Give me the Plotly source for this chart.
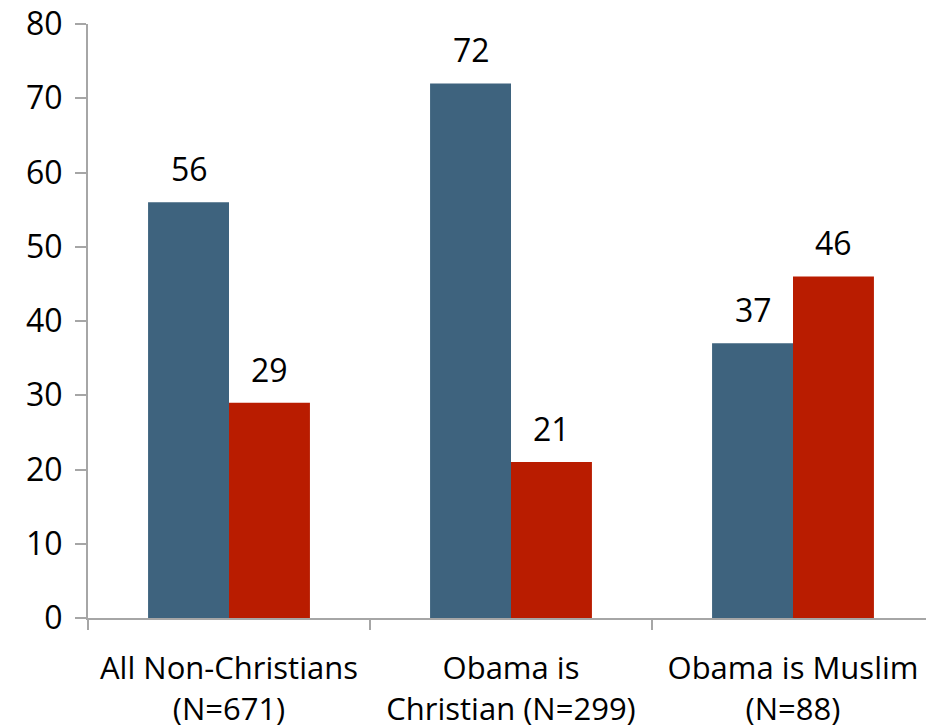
import plotly.graph_objects as go

categories = ["All Non-Christians<br>(N=671)", "Obama is<br>Christian (N=299)", "Obama is Muslim<br>(N=88)"]
series_a = [56, 72, 37]
series_b = [29, 21, 46]
y_ticks = [0, 10, 20, 30, 40, 50, 60, 70, 80]

BLUE = "#3E637E"
RED = "#B91C00"
FONT = "Open Sans"

fig = go.Figure()
fig.add_trace(go.Bar(x=categories, y=series_a, marker=dict(color=BLUE, line=dict(width=0)), name="A"))
fig.add_trace(go.Bar(x=categories, y=series_b, marker=dict(color=RED, line=dict(width=0)), name="B"))

for i, c in enumerate(categories):
    for vals, shift in ((series_a, -40), (series_b, 40)):
        fig.add_annotation(x=c, y=vals[i], xref="x", yref="y", text=str(vals[i]),
                           showarrow=False, xshift=shift, yanchor="bottom", yshift=10,
                           font=dict(family=FONT, size=32, color="black"))

fig.update_layout(
    width=934, height=727,
    margin=dict(l=88, r=0, t=24, b=109, autoexpand=False),
    barmode="group", bargap=0.426, bargroupgap=0,
    plot_bgcolor="white", paper_bgcolor="white",
    showlegend=False,
    font=dict(family=FONT, size=32, color="black"),
)
fig.update_xaxes(range=[-0.5, 2.5], showline=True, linecolor="#A6A6A6", linewidth=2,
                 ticks="outside", tickson="boundaries", ticklen=10, tickcolor="#A6A6A6", tickwidth=2,
                 showgrid=False, automargin=False, ticklabelstandoff=22, ticklabeloverflow="allow",
                 tickfont=dict(family=FONT, size=31))
fig.update_yaxes(range=[0, 80], tickvals=y_ticks, showline=True, linecolor="#A6A6A6", linewidth=2,
                 ticks="outside", ticklen=11, tickcolor="#A6A6A6", tickwidth=2,
                 showgrid=False, zeroline=False, automargin=False, ticklabelstandoff=6,
                 ticklabeloverflow="allow",
                 tickfont=dict(family=FONT, size=32))

fig.write_html("out.html", config={"displayModeBar": False},
               post_script="document.body.style.margin='0';document.body.style.overflow='hidden';")
